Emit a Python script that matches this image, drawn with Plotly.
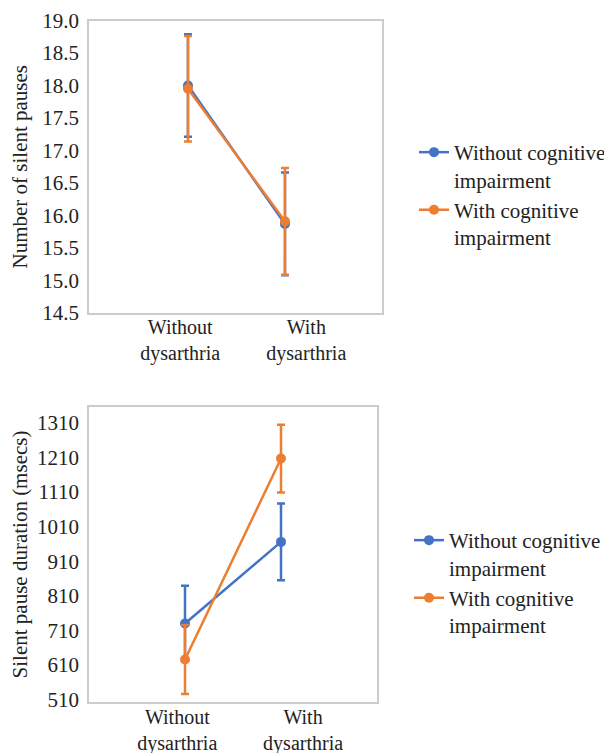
import plotly.graph_objects as go

# ---- data ----
categories = ["Without<br>dysarthria", "With<br>dysarthria"]
series_names = ["Without cognitive<br>impairment", "With cognitive<br>impairment"]

pauses_without_ci = [18.00, 15.87]
pauses_without_ci_err = [0.79, 0.79]
pauses_with_ci = [17.95, 15.91]
pauses_with_ci_err = [0.81, 0.82]

duration_without_ci = [730, 966]
duration_without_ci_err = [109, 111]
duration_with_ci = [626, 1207]
duration_with_ci_err = [100, 98]

top_yticks = [14.5, 15.0, 15.5, 16.0, 16.5, 17.0, 17.5, 18.0, 18.5, 19.0]
bottom_yticks = [510, 610, 710, 810, 910, 1010, 1110, 1210, 1310]

# ---- style ----
BLUE = "#4472C4"
ORANGE = "#ED7D31"
FONT = "Liberation Serif"
TXT = "#222222"
FS = 21
XFS = 20
# page has an 8px body margin; figure drawn 8px in from top-left
W, H = 604, 745

xpos = list(range(len(categories)))

fig = go.Figure()


def add_series(y, err, name, color, xa, ya, legend):
    fig.add_trace(go.Scatter(
        x=xpos, y=y, name=name, mode="lines+markers",
        line=dict(color=color, width=2.5),
        marker=dict(color=color, size=10),
        error_y=dict(type="data", array=err, visible=True, color=color,
                     thickness=2.5, width=4),
        xaxis=xa, yaxis=ya, legend=legend,
    ))


add_series(pauses_without_ci, pauses_without_ci_err, series_names[0], BLUE, "x", "y", "legend")
add_series(pauses_with_ci, pauses_with_ci_err, series_names[1], ORANGE, "x", "y", "legend")
add_series(duration_without_ci, duration_without_ci_err, series_names[0], BLUE, "x2", "y2", "legend2")
add_series(duration_with_ci, duration_with_ci_err, series_names[1], ORANGE, "x2", "y2", "legend2")

axis_common = dict(showline=True, mirror=True, linecolor="#cccccc", linewidth=1.5,
                   showgrid=False, zeroline=False, ticks="", automargin=False,
                   ticklabeloverflow="allow")
yfont = dict(family=FONT, size=FS, color=TXT)
xfont = dict(family=FONT, size=XFS, color=TXT)

fig.update_layout(
    template="none",
    width=W, height=H,
    margin=dict(l=0, r=0, t=0, b=0, autoexpand=False),
    paper_bgcolor="white", plot_bgcolor="white",
    font=dict(family=FONT, size=FS, color=TXT),
    xaxis=dict(domain=[81 / W, 374 / W], anchor="y", range=[-1.02, 2.0],
               tickvals=[-0.08, 1.22], ticktext=categories, ticklabelstandoff=-5,
               tickfont=xfont, **axis_common),
    yaxis=dict(domain=[1 - 305 / H, 1 - 12.5 / H], anchor="x", range=[14.5, 19.0001],
               tickvals=top_yticks, tickformat=".1f", ticklabelstandoff=4,
               tickfont=yfont,
               title=dict(text="Number of silent pauses", standoff=15, font=yfont),
               **axis_common),
    xaxis2=dict(domain=[81 / W, 369 / W], anchor="y2", range=[-1.0, 2.0],
                tickvals=[-0.08, 1.23], ticktext=categories, ticklabelstandoff=-4,
                tickfont=xfont, **axis_common),
    yaxis2=dict(domain=[1 - 694 / H, 1 - 399 / H], anchor="x2", range=[503, 1356],
                tickvals=bottom_yticks, ticklabelstandoff=4, tickfont=yfont,
                title=dict(text="Silent pause duration (msecs)", standoff=18, font=yfont),
                **axis_common),
    showlegend=True,
    legend=dict(x=406 / W, y=1 - 124 / H, xanchor="left", yanchor="top",
                valign="top", itemwidth=30, bgcolor="rgba(0,0,0,0)",
                font=dict(family=FONT, size=FS, color=TXT)),
    legend2=dict(x=401 / W, y=1 - 512 / H, xanchor="left", yanchor="top",
                 valign="top", itemwidth=30, bgcolor="rgba(0,0,0,0)",
                 font=dict(family=FONT, size=FS, color=TXT)),
)

fig.write_html("out.html")
